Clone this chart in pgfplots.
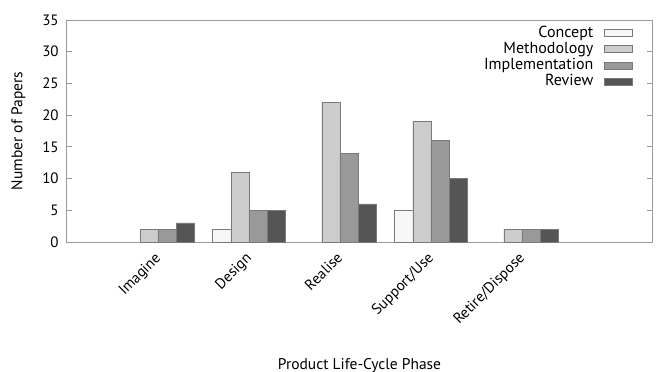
\documentclass[border=0pt]{standalone}
\usepackage{pgfplots}
\pgfplotsset{compat=1.18}
\usepackage{fontspec}
\setmainfont{PT Sans}
\definecolor{cconcept}{HTML}{F7F7F7}
\definecolor{cmeth}{HTML}{CCCCCC}
\definecolor{cimpl}{HTML}{999999}
\definecolor{crev}{HTML}{555555}
\definecolor{cedge}{HTML}{7A7A7A}
\definecolor{caxis}{HTML}{9A9A9A}
\begin{document}
\fontsize{15.5}{17}\selectfont
\begin{tikzpicture}
\path[use as bounding box] (-67pt,-130pt) rectangle (589pt,242pt);
\begin{axis}[
  scale only axis, width=585pt, height=222pt,
  xmin=0, xmax=6.43, ymin=0, ymax=35,
  ytick={0,5,...,35},
  xtick={1,2,3,4,5},
  xticklabels={Imagine,Design,Realise,Support/Use,Retire/Dispose},
  x tick style={draw=none},
  y tick style={draw=caxis, line width=0.8pt},
  tick align=inside, major tick length=5pt,
  axis line style={draw=caxis, line width=1pt},
  /pgf/number format/assume math mode=true,
  tick label style={font=\fontsize{15}{17}\selectfont},
  yticklabel style={xshift=-3pt},
  xticklabel style={rotate=45, anchor=north east, inner sep=1pt, yshift=1pt, xshift=-5pt},
  ylabel={Number of Papers},
  ylabel style={at={(axis description cs:-0.083,0.5)}, anchor=center},
  xlabel={Product Life-Cycle Phase},
  xlabel style={at={(axis description cs:0.5,-0.555)}, anchor=center},
  ybar, bar width=0.2,
  legend cell align=right,
  legend plot pos=right,
  legend style={at={(1,1)}, anchor=north east, xshift=-16pt, yshift=-2pt,
    draw=none, fill=none, row sep=-1.5pt,
    font=\fontsize{16}{16.5}\selectfont},
  legend image code/.code={\path (0pt,0pt); \draw[#1] (9pt,-3.5pt) rectangle (37pt,3.5pt);},
]
\addplot[fill=cconcept, draw=cedge, bar shift=-0.3] coordinates {(2,2) (4,5)};
\addplot[fill=cmeth, draw=cedge, bar shift=-0.1] coordinates {(1,2) (2,11) (3,22) (4,19) (5,2)};
\addplot[fill=cimpl, draw=cedge, bar shift=0.1] coordinates {(1,2) (2,5) (3,14) (4,16) (5,2)};
\addplot[fill=crev, draw=cedge, bar shift=0.3] coordinates {(1,3) (2,5) (3,6) (4,10) (5,2)};
\legend{Concept,Methodology,Implementation,Review}
\end{axis}
\end{tikzpicture}
\end{document}
